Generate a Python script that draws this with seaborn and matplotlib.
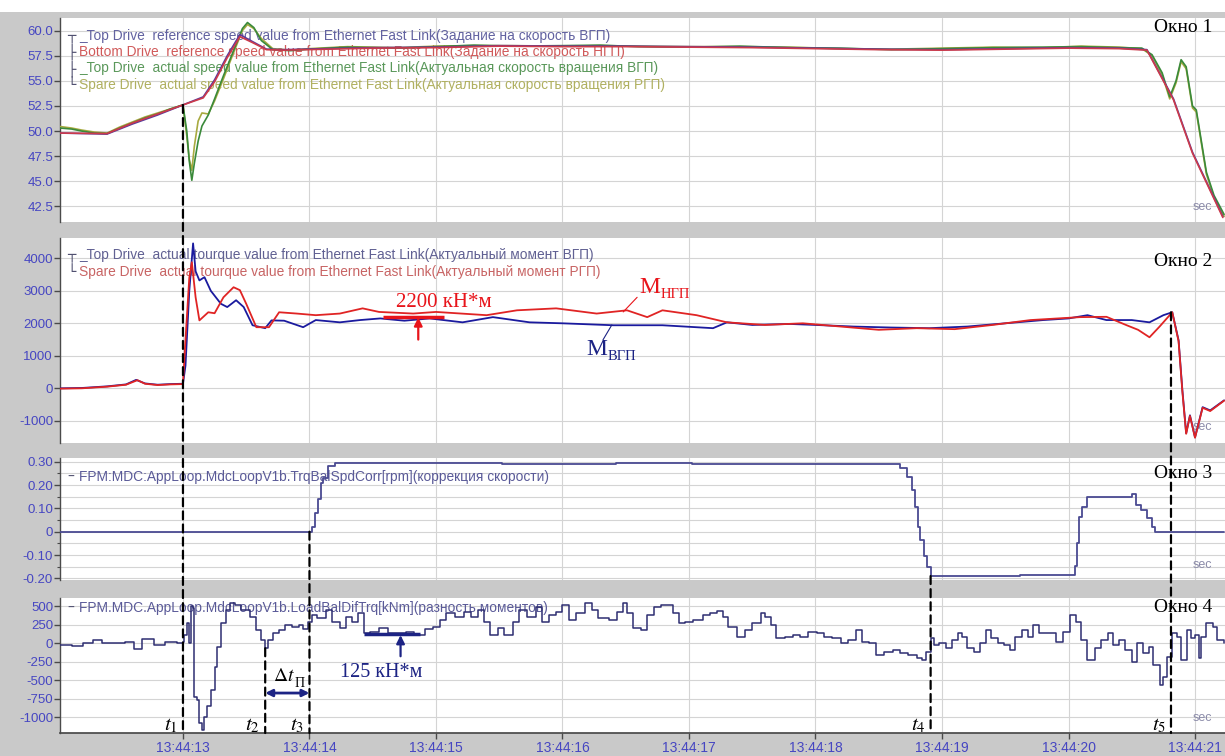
import matplotlib
matplotlib.use("Agg")
import matplotlib.pyplot as plt
import seaborn as sns
from matplotlib.patches import ConnectionPatch, Rectangle

# --- time axis (seconds after 13:44:00) ---
T_MIN, T_MAX = 12.028, 21.237
sec_ticks = [13, 14, 15, 16, 17, 18, 19, 20, 21]
time_labels = ["13:44:13", "13:44:14", "13:44:15", "13:44:16", "13:44:17",
               "13:44:18", "13:44:19", "13:44:20", "13:44:21"]

# --- window 1: speeds ---
spd_ref_t = [12.03, 12.40, 12.60, 12.80, 13.00, 13.16, 13.25, 13.35, 13.45, 13.55,
             13.66, 13.80, 14.50, 15.00, 15.50, 16.00, 16.50, 17.00, 17.50, 18.00,
             18.50, 19.00, 19.50, 20.00, 20.40, 20.62, 20.83, 20.98, 21.22]
spd_ref_top = [49.8, 49.7, 50.7, 51.6, 52.6, 53.4, 55.1, 57.5, 59.6, 58.9,
               58.15, 58.1, 58.3, 58.35, 58.5, 58.45, 58.45, 58.4, 58.35, 58.25,
               58.15, 58.1, 58.2, 58.3, 58.25, 58.1, 53.2, 47.9, 41.5]
spd_ref_bot = [49.8, 49.75, 50.8, 51.7, 52.6, 53.3, 54.9, 57.3, 59.4, 58.8,
               58.1, 58.05, 58.25, 58.3, 58.45, 58.4, 58.4, 58.35, 58.3, 58.2,
               58.1, 58.05, 58.15, 58.25, 58.2, 58.05, 53.1, 47.8, 41.4]
spd_act_t = [12.03, 12.12, 12.20, 12.30, 12.40, 12.50, 12.60, 12.70, 12.80, 12.90,
             13.00, 13.03, 13.05, 13.07, 13.09, 13.12, 13.15, 13.20, 13.25, 13.32,
             13.40, 13.47, 13.51, 13.56, 13.62, 13.71, 13.85, 14.00, 14.30, 14.70,
             15.00, 15.30, 15.60, 16.00, 16.30, 16.60, 17.00, 17.40, 17.80, 18.20,
             18.60, 19.00, 19.40, 19.80, 20.10, 20.40, 20.58, 20.66, 20.74, 20.80,
             20.85, 20.89, 20.93, 20.98, 21.01, 21.09, 21.15, 21.23]
spd_act_top = [50.3, 50.2, 50.0, 49.8, 49.75, 50.3, 50.8, 51.3, 51.7, 52.2,
               52.6, 50.0, 47.0, 45.1, 46.8, 49.0, 50.5, 51.6, 53.2, 55.5,
               58.0, 60.2, 60.8, 60.3, 59.0, 58.1, 58.0, 58.15, 58.35, 58.25,
               58.4, 58.55, 58.45, 58.5, 58.55, 58.4, 58.35, 58.45, 58.3, 58.25,
               58.1, 58.2, 58.3, 58.35, 58.4, 58.3, 58.25, 57.6, 55.8, 53.4,
               55.0, 57.1, 56.4, 52.5, 52.1, 45.9, 43.6, 41.7]
spd_act_spare = [50.45, 50.3, 50.1, 49.9, 49.8, 50.4, 50.9, 51.4, 51.8, 52.2,
                 52.6, 49.5, 47.2, 46.1, 48.5, 51.0, 51.8, 51.7, 53.0, 55.2,
                 57.8, 60.0, 60.6, 60.2, 59.2, 58.2, 58.05, 58.2, 58.4, 58.3,
                 58.45, 58.5, 58.5, 58.45, 58.5, 58.45, 58.4, 58.4, 58.35, 58.2,
                 58.15, 58.25, 58.35, 58.3, 58.45, 58.35, 58.2, 57.5, 55.6, 53.2,
                 54.8, 56.9, 56.2, 52.3, 51.9, 45.7, 43.4, 41.5]

# --- window 2: torques ---
trq_top_t = [12.03, 12.20, 12.40, 12.55, 12.63, 12.70, 12.80, 12.90, 13.00, 13.02,
             13.05, 13.08, 13.10, 13.13, 13.17, 13.22, 13.30, 13.35, 13.42, 13.48,
             13.55, 13.65, 13.70, 13.80, 13.95, 14.05, 14.24, 14.40, 14.56, 14.75,
             14.95, 15.21, 15.45, 15.74, 16.00, 16.40, 16.79, 17.19, 17.30, 17.50,
             17.80, 18.00, 18.30, 18.60, 18.90, 19.20, 19.50, 19.80, 20.00, 20.15,
             20.30, 20.50, 20.64, 20.75, 20.82, 20.87, 20.90, 20.93, 20.96, 21.00,
             21.06, 21.12, 21.23]
trq_top = [0, 10, 60, 120, 260, 150, 110, 130, 140, 700,
           3000, 4460, 3600, 3320, 3420, 3000, 2600, 2500, 2710, 2500,
           1940, 1850, 2090, 2080, 1880, 2100, 2030, 2100, 2150, 2080,
           2150, 2030, 2190, 2030, 2000, 1940, 1940, 1850, 2030, 1950,
           1980, 1950, 1900, 1870, 1850, 1900, 2000, 2100, 2150, 2250,
           2100, 2100, 2030, 2250, 2340, 1480, -50, -1380, -830, -1510,
           -580, -680, -370]
trq_spare_t = [12.03, 12.20, 12.40, 12.55, 12.64, 12.70, 12.80, 12.90, 13.00, 13.02,
               13.05, 13.07, 13.10, 13.13, 13.20, 13.25, 13.32, 13.40, 13.45, 13.50,
               13.58, 13.68, 13.76, 13.90, 14.05, 14.24, 14.42, 14.55, 14.82, 15.00,
               15.20, 15.40, 15.64, 15.95, 16.27, 16.51, 16.67, 16.79, 17.06, 17.30,
               17.60, 17.90, 18.20, 18.50, 18.80, 19.10, 19.40, 19.70, 20.09, 20.30,
               20.46, 20.55, 20.64, 20.72, 20.82, 20.87, 20.90, 20.93, 20.96, 21.00,
               21.06, 21.12, 21.23]
trq_spare = [-10, 0, 50, 110, 250, 140, 100, 120, 130, 1500,
             3400, 3880, 2800, 2090, 2340, 2310, 2800, 3110, 3020, 2600,
             1880, 1880, 2340, 2300, 2250, 2300, 2460, 2350, 2300, 2350,
             2300, 2250, 2400, 2460, 2300, 2400, 2190, 2400, 2250, 2030,
             1950, 2000, 1900, 1800, 1850, 1820, 1950, 2100, 2190, 2200,
             1940, 1800, 1570, 1900, 2340, 1450, -100, -1400, -850, -1520,
             -600, -700, -380]

# --- window 3: speed correction ---
corr_t = [12.03, 14.00, 14.02, 14.04, 14.07, 14.09, 14.11, 14.15, 14.20, 15.50,
          15.52, 16.40, 16.42, 17.00, 17.02, 18.20, 18.61, 18.67, 18.72, 18.76,
          18.79, 18.81, 18.83, 18.86, 18.88, 18.91, 19.62, 20.03, 20.05, 20.07,
          20.08, 20.11, 20.15, 20.50, 20.53, 20.57, 20.62, 20.66, 20.68, 21.23]
corr = [0, 0, 0.02, 0.08, 0.14, 0.21, 0.23, 0.28, 0.295, 0.295,
        0.29, 0.29, 0.295, 0.295, 0.29, 0.29, 0.29, 0.272, 0.234, 0.18,
        0.107, 0.02, -0.034, -0.106, -0.153, -0.19, -0.187, -0.187, -0.147, -0.048,
        0.065, 0.108, 0.15, 0.16, 0.114, 0.094, 0.06, 0.02, 0, 0]

# --- window 4: torque difference ---
dif_t = [12.03, 12.12, 12.21, 12.29, 12.36, 12.47, 12.54, 12.61, 12.68, 12.77,
         12.86, 12.95, 13.00, 13.01, 13.03, 13.05, 13.06, 13.08, 13.09, 13.11,
         13.13, 13.15, 13.17, 13.19, 13.22, 13.25, 13.27, 13.30, 13.34, 13.37,
         13.41, 13.46, 13.53, 13.58, 13.62, 13.65, 13.67, 13.71, 13.76, 13.81,
         13.86, 13.92, 13.95, 13.99, 14.02, 14.06, 14.13, 14.18, 14.24, 14.29,
         14.34, 14.38, 14.43, 14.48, 14.55, 14.62, 14.69, 14.76, 14.83, 14.91,
         14.98, 15.03, 15.08, 15.15, 15.22, 15.28, 15.33, 15.38, 15.43, 15.49,
         15.54, 15.61, 15.66, 15.72, 15.79, 15.84, 15.89, 15.95, 16.00, 16.05,
         16.11, 16.18, 16.23, 16.28, 16.37, 16.43, 16.48, 16.51, 16.56, 16.62,
         16.67, 16.72, 16.78, 16.83, 16.87, 16.92, 16.97, 17.03, 17.11, 17.17,
         17.22, 17.27, 17.31, 17.38, 17.44, 17.50, 17.57, 17.60, 17.65, 17.69,
         17.76, 17.82, 17.88, 17.94, 18.01, 18.07, 18.13, 18.20, 18.26, 18.32,
         18.37, 18.42, 18.48, 18.54, 18.61, 18.67, 18.73, 18.80, 18.84, 18.87,
         18.91, 18.94, 18.98, 19.03, 19.08, 19.13, 19.16, 19.20, 19.25, 19.30,
         19.35, 19.39, 19.44, 19.49, 19.54, 19.58, 19.63, 19.68, 19.72, 19.77,
         19.83, 19.90, 19.96, 20.01, 20.06, 20.10, 20.15, 20.21, 20.26, 20.31,
         20.35, 20.40, 20.45, 20.50, 20.54, 20.59, 20.64, 20.67, 20.72, 20.75,
         20.78, 20.82, 20.86, 20.89, 20.94, 20.97, 21.00, 21.03, 21.05, 21.09,
         21.14, 21.17, 21.23]
dif = [-22, -36, 0, 45, 9, 0, 22, -80, 54, -22,
       22, 9, 22, 112, 270, 0, 500, 480, -720, -760,
       -1080, -1176, -990, -850, -630, -315, -45, 270, 450, 540,
       515, 450, 360, 180, 45, -67, 45, 144, 180, 247,
       225, 247, 190, 292, 382, 337, 450, 292, 202, 360,
       292, 404, 135, 157, 202, 144, 135, 157, 112, 190,
       225, 315, 404, 360, 426, 360, 450, 292, 112, 202,
       112, 292, 450, 360, 494, 292, 382, 426, 516, 315,
       404, 540, 450, 337, 315, 426, 550, 404, 202, 180,
       380, 494, 516, 516, 404, 270, 292, 315, 380, 404,
       440, 360, 225, 90, 180, 270, 404, 360, 247, 67,
       90, 112, 90, 157, 135, 90, 67, 0, 45, 180,
       22, 0, -157, -112, -90, -135, -157, -202, -225, -112,
       67, -22, 0, -67, 45, 135, 90, -67, -112, 0,
       180, 67, 0, -22, -90, 90, 180, 90, 247, 135,
       135, 22, 157, 380, 292, 45, -225, -67, 45, 135,
       -22, 45, -90, -247, 0, -135, -45, -292, -560, -450,
       -180, 135, 90, -225, 180, 67, 112, -202, 90, 270,
       225, 45, 0]

# --- marked instants t1..t5 ---
t_marks = [13.00, 13.65, 14.00, 18.91, 20.81]
t_names = ["$t_1$", "$t_2$", "$t_3$", "$t_4$", "$t_5$"]

# --- legends ---
leg1 = ["_Top Drive  reference speed value from Ethernet Fast Link(Задание на скорость ВГП)",
        "Bottom Drive  reference speed value from Ethernet Fast Link(Задание на скорость НГП)",
        "_Top Drive  actual speed value from Ethernet Fast Link(Актуальная скорость вращения ВГП)",
        "Spare Drive  actual speed value from Ethernet Fast Link(Актуальная скорость вращения РГП)"]
leg2 = ["_Top Drive  actual tourque value from Ethernet Fast Link(Актуальный момент ВГП)",
        "Spare Drive  actual tourque value from Ethernet Fast Link(Актуальный момент РГП)"]
leg3 = "FPM:MDC:AppLoop.MdcLoopV1b.TrqBalSpdCorr[rpm](коррекция скорости)"
leg4 = "FPM.MDC.AppLoop.MdcLoopV1b.LoadBalDifTrq[kNm](разность моментов)"

GRAY = '#c9c9c9'
TICK_BLUE = '#4646c2'
RED = '#e8141a'
NAVY = '#1c2384'
SERIF = ['Liberation Serif', 'DejaVu Serif']

sns.set_theme(style="whitegrid")
plt.rcParams['font.family'] = ['Liberation Sans', 'DejaVu Sans']
plt.rcParams['mathtext.fontset'] = 'stix'

fig = plt.figure(figsize=(12.25, 7.56), dpi=100, facecolor=GRAY)
fig.add_artist(Rectangle((0, 1 - 12 / 756), 1, 12 / 756, transform=fig.transFigure,
                         facecolor='white', edgecolor='none', zorder=0))

H = 756.0
left = 60 / 1225
boxes = [(18, 222), (238, 443), (458, 580), (598, 733)]
axes = [fig.add_axes([left, 1 - b / H, 1 - left, (b - t) / H]) for t, b in boxes]
ax1, ax2, ax3, ax4 = axes


def style_axis(ax, ylim, yticks, ylabels):
    ax.set_facecolor('white')
    ax.set_xlim(T_MIN, T_MAX)
    ax.set_ylim(*ylim)
    ax.set_xticks(sec_ticks)
    ax.set_yticks(yticks)
    ax.set_yticklabels(ylabels)
    ax.grid(True, which='major', color='#d4d4d4', lw=0.8)
    for s in ['top', 'right', 'bottom']:
        ax.spines[s].set_visible(False)
    ax.spines['left'].set_color('#4a4a4a')
    ax.spines['left'].set_linewidth(1.0)
    ax.tick_params(axis='y', left=True, length=4, width=1, color='#4a4a4a',
                   labelcolor=TICK_BLUE, labelsize=9.5, pad=1)
    ax.tick_params(axis='x', bottom=False, labelbottom=False)
    ax.set_xlabel('')
    ax.set_ylabel('')


def legend_lines(ax, lines, colors, y0, dy, prefixes):
    for i, (txt, c, p) in enumerate(zip(lines, colors, prefixes)):
        ax.text(0.006, y0 - i * dy, p, transform=ax.transAxes, color='#505070',
                fontsize=10, va='center', ha='left', family=['DejaVu Sans'], zorder=1)
        ax.text(0.0165, y0 - i * dy, txt, transform=ax.transAxes, color=c,
                fontsize=9.9, va='center', ha='left', zorder=1)


def window_label(ax, n, y):
    ax.text(0.989, y, "Окно %d" % n, transform=ax.transAxes, ha='right', va='center',
            fontsize=14, family=SERIF, color='black', zorder=6)
    ax.text(0.981, {1: 0.074, 2: 0.078, 3: 0.123, 4: 0.111}[n], "sec",
            transform=ax.transAxes, ha='center', va='center', fontsize=9,
            color='#8a8aa8', zorder=2)


# window 1
style_axis(ax1, (40.95, 61.25), [42.5, 45.0, 47.5, 50.0, 52.5, 55.0, 57.5, 60.0],
           ["42.5", "45.0", "47.5", "50.0", "52.5", "55.0", "57.5", "60.0"])
legend_lines(ax1, leg1, ['#6262a0', '#d05a5a', '#5a985a', '#b0b060'], 0.913, 0.080,
             ["┬", "├", "├", "└"])
sns.lineplot(x=spd_act_t, y=spd_act_spare, ax=ax1, color='#a8aa40', lw=1.2, estimator=None, zorder=3)
sns.lineplot(x=spd_act_t, y=spd_act_top, ax=ax1, color='#3a8a3a', lw=1.2, estimator=None, zorder=3)
sns.lineplot(x=spd_ref_t, y=spd_ref_top, ax=ax1, color='#5a3a9c', lw=1.2, estimator=None, zorder=3)
sns.lineplot(x=spd_ref_t, y=spd_ref_bot, ax=ax1, color='#cc3a4a', lw=1.2, estimator=None, zorder=3)
window_label(ax1, 1, 0.951)

# window 2
style_axis(ax2, (-1683, 4625), [-1000, 0, 1000, 2000, 3000, 4000],
           ["-1000", "0", "1000", "2000", "3000", "4000"])
legend_lines(ax2, leg2, ['#606092', '#c86464'], 0.917, 0.081, ["┬", "└"])
sns.lineplot(x=trq_top_t, y=trq_top, ax=ax2, color='#1a1a9e', lw=1.3, estimator=None, zorder=3)
sns.lineplot(x=trq_spare_t, y=trq_spare, ax=ax2, color='#e02424', lw=1.3, estimator=None, zorder=3)
window_label(ax2, 2, 0.883)
# 2200 kN*m marker
ax2.hlines(2200, 14.58, 15.06, color=RED, lw=2.5, zorder=4)
ax2.annotate("", xy=(14.86, 2180), xytext=(14.86, 1500),
             arrowprops=dict(arrowstyle='-|>', color=RED, lw=1.6, mutation_scale=12,
                             shrinkA=0, shrinkB=0), zorder=5)
ax2.text(15.06, 2650, "2200 кН*м", color=RED, fontsize=15, family=SERIF,
         ha='center', va='center', zorder=5)
# M labels
ax2.text(16.61, 3110, "M", color=RED, fontsize=17, family=SERIF, ha='left', va='center', zorder=5)
ax2.annotate("НГП", xy=(16.61, 3110), xytext=(15, -5), textcoords='offset points',
             color=RED, fontsize=10.5, family=SERIF, ha='left', va='center', zorder=5)
ax2.annotate("", xy=(16.48, 2350), xytext=(16.59, 2800),
             arrowprops=dict(arrowstyle='-', color=RED, lw=0.8, shrinkA=0, shrinkB=0))
ax2.text(16.19, 1180, "M", color=NAVY, fontsize=17, family=SERIF, ha='left', va='center', zorder=5)
ax2.annotate("ВГП", xy=(16.19, 1180), xytext=(15, -5), textcoords='offset points',
             color=NAVY, fontsize=10.5, family=SERIF, ha='left', va='center', zorder=5)
ax2.annotate("", xy=(16.32, 1490), xytext=(16.39, 1950),
             arrowprops=dict(arrowstyle='-', color=NAVY, lw=0.8, shrinkA=0, shrinkB=0))

# window 3
style_axis(ax3, (-0.207, 0.316), [-0.2, -0.1, 0, 0.1, 0.2, 0.3],
           ["-0.20", "-0.10", "0", "0.10", "0.20", "0.30"])
ax3.set_yticks([-0.15, -0.05, 0.05, 0.15, 0.25], minor=True)
ax3.grid(True, which='minor', axis='y', color='#d4d4d4', lw=0.8)
ax3.tick_params(axis='y', which='minor', left=True, length=2, width=0.8, color='#4a4a4a')
legend_lines(ax3, [leg3], ['#5a5a98'], 0.844, 0.1, ["–"])
sns.lineplot(x=corr_t, y=corr, ax=ax3, color='#4a4a92', lw=1.3, estimator=None,
             drawstyle='steps-post', zorder=3)
window_label(ax3, 3, 0.877)

# window 4
style_axis(ax4, (-1212, 612), [-1000, -750, -500, -250, 0, 250, 500],
           ["-1000", "-750", "-500", "-250", "0", "250", "500"])
ax4.spines['bottom'].set_visible(True)
ax4.spines['bottom'].set_color('#4a4a4a')
ax4.set_xticklabels(time_labels)
ax4.tick_params(axis='x', bottom=True, labelbottom=True, length=4, width=1,
                color='#4a4a4a', labelcolor=TICK_BLUE, labelsize=10, pad=2)
legend_lines(ax4, [leg4], ['#5a5a98'], 0.926, 0.1, ["–"])
sns.lineplot(x=dif_t, y=dif, ax=ax4, color='#2e2e72', lw=1.1, estimator=None,
             drawstyle='steps-post', zorder=3)
window_label(ax4, 4, 0.926)
# 125 kN*m marker
ax4.hlines(125, 14.43, 14.87, color=NAVY, lw=2.5, zorder=4)
ax4.annotate("", xy=(14.72, 110), xytext=(14.72, -175),
             arrowprops=dict(arrowstyle='-|>', color=NAVY, lw=1.6, mutation_scale=12,
                             shrinkA=0, shrinkB=0), zorder=5)
ax4.text(14.57, -388, "125 кН*м", color=NAVY, fontsize=14.5, family=SERIF,
         ha='center', va='center', zorder=5)
# delta t
ax4.annotate("", xy=(t_marks[2], -672), xytext=(t_marks[1], -672),
             arrowprops=dict(arrowstyle='<|-|>', color=NAVY, lw=2, mutation_scale=10,
                             shrinkA=0, shrinkB=0), zorder=5)
ax4.text(13.71, -455, r"$\Delta t$", color='black', fontsize=14, ha='left', va='center', zorder=5)
ax4.annotate("П", xy=(13.71, -455), xytext=(16, -5), textcoords='offset points',
             color='black', fontsize=10, family=SERIF, ha='left', va='center', zorder=5)

# t labels
for tm, nm in zip(t_marks, t_names):
    ax4.text(tm - 0.04, -1104, nm, color='black', fontsize=15, ha='right', va='center', zorder=5)

# dashed markers spanning windows
starts = [(ax1, 52.6), (ax4, -67), (ax3, 0.0), (ax3, -0.19), (ax2, 2340)]
for tm, (axa, ya) in zip(t_marks, starts):
    con = ConnectionPatch(xyA=(tm, ya), coordsA="data", axesA=axa,
                          xyB=(tm, ax4.get_ylim()[0]), coordsB="data", axesB=ax4,
                          color='black', lw=1.6, linestyle=(0, (3.6, 2.3)), zorder=7)
    fig.add_artist(con)

fig.savefig("out.png", dpi=100, facecolor=GRAY)
